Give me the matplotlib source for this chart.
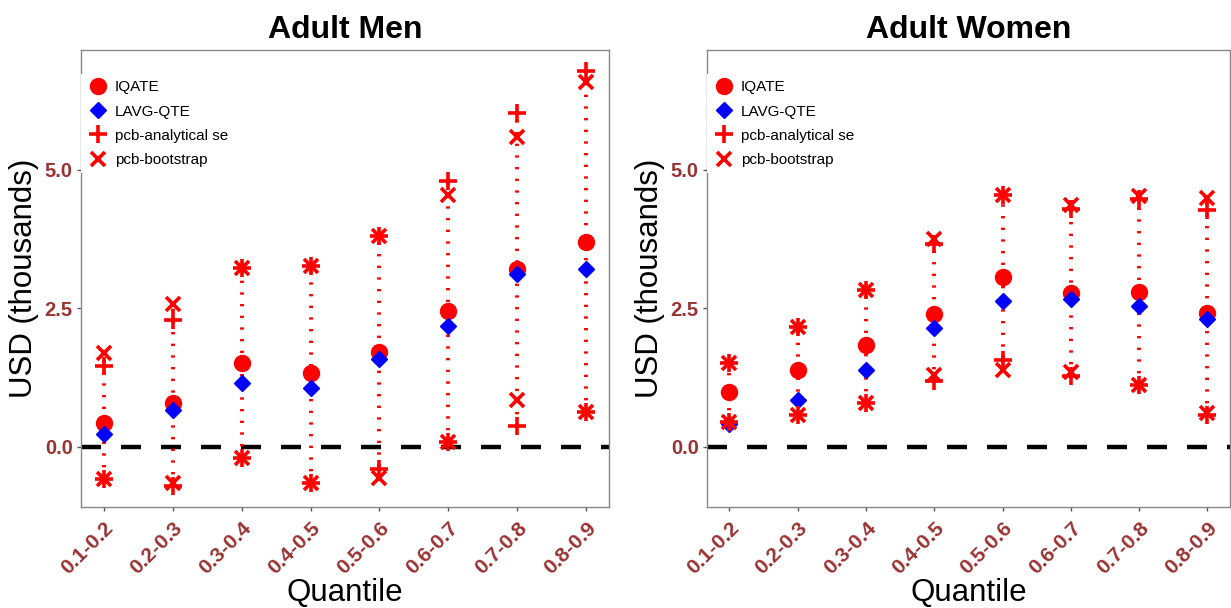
import matplotlib
matplotlib.use('Agg')
import matplotlib.pyplot as plt
from matplotlib.lines import Line2D
import numpy as np

plt.rcParams['font.family'] = ['Liberation Sans', 'DejaVu Sans']

quantiles = ['0.1-0.2', '0.2-0.3', '0.3-0.4', '0.4-0.5',
             '0.5-0.6', '0.6-0.7', '0.7-0.8', '0.8-0.9']

# Adult Men (USD thousands)
men_iqate = [0.43, 0.78, 1.51, 1.33, 1.71, 2.44, 3.21, 3.70]
men_lavg = [0.23, 0.66, 1.14, 1.06, 1.59, 2.17, 3.12, 3.21]
men_an_hi = [1.45, 2.28, 3.22, 3.27, 3.80, 4.79, 6.02, 6.79]
men_an_lo = [-0.59, -0.71, -0.21, -0.65, -0.40, 0.09, 0.37, 0.63]
men_bs_hi = [1.69, 2.57, 3.22, 3.27, 3.80, 4.55, 5.59, 6.59]
men_bs_lo = [-0.59, -0.65, -0.21, -0.65, -0.57, 0.09, 0.84, 0.63]

# Adult Women (USD thousands)
wom_iqate = [0.99, 1.39, 1.83, 2.40, 3.06, 2.78, 2.79, 2.42]
wom_lavg = [0.41, 0.84, 1.39, 2.14, 2.63, 2.67, 2.54, 2.31]
wom_an_hi = [1.51, 2.16, 2.82, 3.65, 4.54, 4.29, 4.47, 4.27]
wom_an_lo = [0.44, 0.58, 0.78, 1.18, 1.57, 1.27, 1.12, 0.57]
wom_bs_hi = [1.51, 2.16, 2.82, 3.74, 4.54, 4.36, 4.52, 4.48]
wom_bs_lo = [0.44, 0.58, 0.78, 1.29, 1.38, 1.35, 1.12, 0.60]

RED = '#FF0000'
BLUE = '#0000FF'
TICKCOL = '#993333'


def draw_panel(ax, title, iqate, lavg, an_hi, an_lo, bs_hi, bs_lo):
    x = np.arange(1, len(quantiles) + 1)
    lo = np.minimum(an_lo, bs_lo)
    hi = np.maximum(an_hi, bs_hi)
    # dotted bands
    ax.vlines(x, lo, hi, colors=RED, linestyles=(0, (0.6, 2.4)), linewidth=2.8, zorder=2)
    ax.axhline(0, color='black', linestyle=(0, (4.5, 4.5)), linewidth=3.2, zorder=1)

    ax.plot(x, iqate, 'o', color=RED, markersize=11.5, linestyle='none', zorder=3)
    ax.plot(x, lavg, 'D', color=BLUE, markersize=8.5, linestyle='none', zorder=4)
    for arr in (an_hi, an_lo):
        ax.plot(x, arr, '+', color=RED, markersize=13, markeredgewidth=2.6,
                linestyle='none', zorder=5)
    for arr in (bs_hi, bs_lo):
        ax.plot(x, arr, 'x', color=RED, markersize=9.5, markeredgewidth=2.6,
                linestyle='none', zorder=5)

    ax.set_xlim(0.67, 8.33)
    ax.set_ylim(-1.09, 7.16)
    ax.set_xticks(x)
    ax.set_xticklabels(quantiles, rotation=45, ha='right', va='top',
                       rotation_mode='anchor', fontsize=15, fontweight='bold',
                       color=TICKCOL)
    ax.set_yticks([0.0, 2.5, 5.0])
    ax.set_yticklabels(['0.0', '2.5', '5.0'], fontsize=14.5, fontweight='bold',
                       color=TICKCOL)
    ax.tick_params(axis='both', colors='#555555', length=3, width=1,
                   labelcolor=TICKCOL)
    ax.tick_params(axis='x', pad=5)
    ax.tick_params(axis='y', pad=3)
    for s in ax.spines.values():
        s.set_color('#888888')
        s.set_linewidth(1.0)
    ax.set_title(title, fontsize=23, fontweight='bold', pad=9)
    ax.set_xlabel('Quantile', fontsize=22.5, labelpad=0)
    ax.set_ylabel('USD (thousands)', fontsize=22.5, labelpad=4)

    handles = [
        Line2D([], [], marker='o', color=RED, linestyle='none', markersize=11.5),
        Line2D([], [], marker='D', color=BLUE, linestyle='none', markersize=8.5),
        Line2D([], [], marker='+', color=RED, linestyle='none', markersize=13, markeredgewidth=2.6),
        Line2D([], [], marker='x', color=RED, linestyle='none', markersize=9.5, markeredgewidth=2.6),
    ]
    labels = ['IQATE', 'LAVG-QTE', 'pcb-analytical se', 'pcb-bootstrap']
    leg = ax.legend(handles, labels, loc='upper left', bbox_to_anchor=(0.0, 0.947),
                    fontsize=11, frameon=True, framealpha=1, edgecolor='none',
                    facecolor='white', fancybox=False, borderaxespad=0,
                    labelspacing=0.67, handletextpad=0.4, handlelength=1.4,
                    borderpad=0.4)
    leg.set_zorder(10)


fig = plt.figure(figsize=(12.31, 6.08), dpi=100)
ax1 = fig.add_axes([0.0658, 0.1661, 0.4289, 0.7516])
ax2 = fig.add_axes([0.5743, 0.1661, 0.4249, 0.7516])

draw_panel(ax1, 'Adult Men', men_iqate, men_lavg, men_an_hi, men_an_lo, men_bs_hi, men_bs_lo)
draw_panel(ax2, 'Adult Women', wom_iqate, wom_lavg, wom_an_hi, wom_an_lo, wom_bs_hi, wom_bs_lo)

fig.savefig('out.png', dpi=100)
